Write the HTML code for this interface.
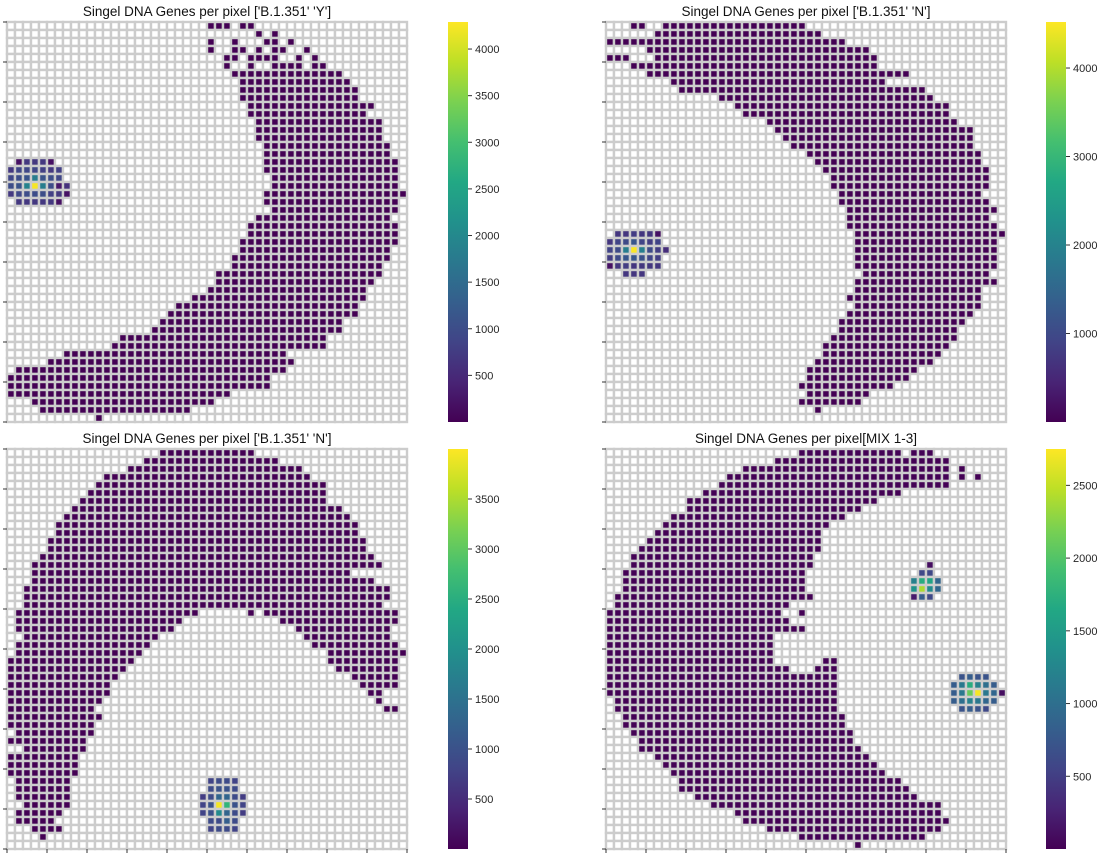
<!DOCTYPE html>
<html><head><meta charset="utf-8">
<style>
html,body{margin:0;padding:0;background:#fff;}
svg{display:block;font-family:"Liberation Sans",sans-serif;}
</style></head>
<body>
<svg id="chart" width="1105" height="856" viewBox="0 0 1105 856">
<defs>
<linearGradient id="vir" x1="0" y1="1" x2="0" y2="0">
<stop offset="0" stop-color="#440154"/><stop offset="0.1" stop-color="#482475"/><stop offset="0.2" stop-color="#414487"/><stop offset="0.3" stop-color="#355f8d"/><stop offset="0.4" stop-color="#2a788e"/><stop offset="0.5" stop-color="#21918c"/><stop offset="0.6" stop-color="#22a884"/><stop offset="0.7" stop-color="#44bf70"/><stop offset="0.8" stop-color="#7ad151"/><stop offset="0.9" stop-color="#bddf26"/><stop offset="1" stop-color="#fde725"/>
</linearGradient>
</defs>
</svg>
<script>
// ---- data ----
const titles = ["Singel DNA Genes per pixel ['B.1.351' 'Y']","Singel DNA Genes per pixel ['B.1.351' 'N']","Singel DNA Genes per pixel ['B.1.351' 'N']","Singel DNA Genes per pixel[MIX 1-3]"];
const vmaxs = [4290, 4520, 4000, 2750];
const cbTicks1 = [500,1000,1500,2000,2500,3000,3500,4000];
const cbTicks2 = [1000,2000,3000,4000];
const cbTicks3 = [500,1000,1500,2000,2500,3000,3500];
const cbTicks4 = [500,1000,1500,2000,2500];
const baseValue = 5;
// spans per row: flat [start,end,start,end,...]
const p1Spans = [[25,27,29,30],[31,31,33,33],[25,25,28,28,32,33,35,35],[25,25,28,29,31,31,33,34,37,37],[27,28,30,33,36,36,38,38],[27,27,30,30,33,36,38,39],[28,41],[29,42],[29,43],[29,43],[30,45],[30,44],[31,46],[31,46],[31,46],[32,47],[32,47],[32,48],[32,48],[33,48],[33,48],[32,49],[32,48],[33,48],[31,47],[30,48],[30,48],[29,48],[29,47],[28,47],[28,46],[26,46],[26,45],[25,44],[23,44],[21,43],[20,43],[19,41],[18,41],[14,39],[13,39],[7,34],[5,35],[1,34],[0,32],[0,32],[0,27],[3,25],[4,22],[11,11]];
const p2Spans = [[3,4,7,24],[6,26],[0,29],[5,32],[0,2,6,33],[3,33],[5,37],[8,34],[9,39],[14,40],[16,42],[17,42],[20,43],[21,45],[22,45],[23,45],[25,46],[26,46],[27,47],[28,47],[28,47],[29,46],[29,47],[30,48],[30,47],[30,48],[31,49],[31,48],[31,48],[31,48],[31,48],[32,47],[31,48],[31,46],[30,46],[31,46],[30,45],[29,44],[29,43],[28,43],[27,42],[27,41],[26,40],[25,38],[25,37],[24,35],[25,32],[24,31],[26,26],[]];
const p3Spans = [[19,30],[17,33],[15,36],[12,37],[11,39],[10,39],[9,39],[8,41],[7,42],[6,43],[6,43],[5,44],[5,44],[4,45],[3,46],[3,42],[3,45],[2,47],[2,47],[2,46],[1,23,30,30,32,48],[1,21,34,48],[1,20,36,47],[2,18,37,47],[1,17,38,48],[1,16,40,49],[0,15,40,48],[0,14,41,48],[0,13,43,48],[0,12,44,48],[0,12,45,46],[0,11,46,46],[0,10,47,48],[0,11],[0,10],[1,10],[0,9],[2,9],[0,8],[0,8],[0,8],[1,7],[1,7],[1,7],[2,7],[1,6],[1,5],[3,6],[4,4],[]];
const p4Spans = [[24,36,38,40],[21,42],[17,42,44,44],[15,42,44,44,46,46],[14,42],[12,36],[10,33],[10,31],[8,29],[7,27],[6,26],[5,26],[4,26],[3,25],[3,25],[2,24],[2,24],[2,24],[1,25],[1,22],[0,21,24,24],[0,22],[0,24],[0,20],[0,20],[0,20],[0,20,27,28],[0,22,26,28],[0,28],[0,28],[0,28],[1,28],[1,28],[2,29],[2,29],[3,30],[4,30],[4,31],[6,32],[7,33],[8,34],[9,36],[9,37],[11,38],[13,41],[16,41],[17,42],[20,41],[24,39],[31,31]];
// hotspots: [row, startCol, values...]
const p1Hot = [[17,1,200,700,700,700,200],[18,0,700,900,900,900,800,700,800],[19,0,900,1000,1100,1800,1100,1000,900],[20,0,1000,1100,1900,4250,1800,1000,300,600],[21,0,700,900,1000,1000,1000,800,700,200],[22,1,700,700,700,700,700,200]];
const p2Hot = [[26,1,700,700,800,700,700,200],[27,0,700,900,1000,1200,900,800,900],[28,0,900,1000,1900,4500,1900,1000,800,600],[29,0,800,1000,1200,1200,1100,900,800],[30,0,200,700,800,700,700,700,700],[31,2,700,700,700]];
const p3Hot = [[41,25,800,900,900,800],[42,25,900,1000,1000,900],[43,24,700,900,1300,1300,900,700],[44,24,800,1000,3950,2600,1000,800],[45,24,800,1000,1900,1300,900,700],[46,25,900,900,1200,900],[47,25,800,900,900,800]];
const p4Hot = [[14,40,100],[15,39,600,600],[16,38,1200,1700,1600,900],[17,38,1400,2400,1300,900],[18,38,200,800,600],[28,44,700,800,700,700],[29,43,800,1100,1700,1200,1000,800],[30,43,800,1100,2100,2720,1100,900,100],[31,43,800,1000,1200,1100,900,800],[32,44,700,800,700,600]];

const panels = [
 {x:7,y:22,spans:p1Spans,hot:p1Hot,vmax:vmaxs[0],ticks:cbTicks1,title:titles[0],cbx:448,xt:false},
 {x:606,y:22,spans:p2Spans,hot:p2Hot,vmax:vmaxs[1],ticks:cbTicks2,title:titles[1],cbx:1046,xt:false},
 {x:7,y:449,spans:p3Spans,hot:p3Hot,vmax:vmaxs[2],ticks:cbTicks3,title:titles[2],cbx:448,xt:true},
 {x:606,y:449,spans:p4Spans,hot:p4Hot,vmax:vmaxs[3],ticks:cbTicks4,title:titles[3],cbx:1046,xt:true}
];
const N=50, C=8, H=400;
const vir=["#440154","#482475","#414487","#355f8d","#2a788e","#21918c","#22a884","#44bf70","#7ad151","#bddf26","#fde725"];
function hex(h){return [1,3,5].map(i=>parseInt(h.substr(i,2),16));}
function color(t){t=Math.max(0,Math.min(1,t));const f=t*10,i=Math.min(9,Math.floor(f)),r=f-i;const a=hex(vir[i]),b=hex(vir[i+1]);return "rgb("+a.map((v,k)=>Math.round(v+(b[k]-v)*r)).join(",")+")";}
const NS="http://www.w3.org/2000/svg";
const svg=document.getElementById('chart');
function mk(tag,attrs,parent){const e=document.createElementNS(NS,tag);for(const k in attrs)e.setAttribute(k,attrs[k]);(parent||svg).appendChild(e);return e;}

panels.forEach((p,pi)=>{
  const g=mk('g',{});
  
  
  const grid=Array.from({length:N},()=>new Array(N).fill(null));
  p.spans.forEach((row,r)=>{for(let k=0;k<row.length;k+=2){for(let c=row[k];c<=row[k+1];c++)grid[r][c]=baseValue;}});
  p.hot.forEach(h=>{const r=h[0],c0=h[1];for(let k=2;k<h.length;k++)grid[r][c0+k-2]=h[k];});
  const sx=c=>p.x+c*C, sy=r=>p.y+r*C;
  for(let r=0;r<N;r++)for(let c=0;c<N;c++){
    const v=grid[r][c];
    const rc=mk('rect',{x:sx(c),y:sy(r),width:C,height:C,fill:v===null?'#ffffff':color(v/p.vmax),stroke:'#cccccc','stroke-width':2.4},g);
    
    
  }
  for(let k=0;k<=10;k++){
    const t=mk('line',{x1:p.x-4,x2:p.x,y1:p.y+k*40,y2:p.y+k*40,stroke:'#333','stroke-width':1},g);
    
    
    if(p.xt){
      const u=mk('line',{x1:p.x+k*40,x2:p.x+k*40,y1:p.y+H,y2:p.y+H+4,stroke:'#333','stroke-width':1},g);
      
      
    }
  }
  const tt=mk('text',{x:p.x+200,y:p.y-6,'text-anchor':'middle','font-size':'13.5px',fill:'#111'},g);
  tt.textContent=p.title;
  
  
  const cb=mk('rect',{x:p.cbx,y:p.y,width:20,height:H,fill:'url(#vir)'},g);
  
  
  p.ticks.forEach(v=>{
    const yy=p.y+H-v/p.vmax*H;
    const l=mk('line',{x1:p.cbx+20,x2:p.cbx+24,y1:yy,y2:yy,stroke:'#333','stroke-width':1},g);
    
    
    const tx=mk('text',{x:p.cbx+27,y:yy+4,'font-size':'11px',fill:'#262626'},g);
    tx.textContent=v;
    
    
  });
});
</script>
</body></html>
